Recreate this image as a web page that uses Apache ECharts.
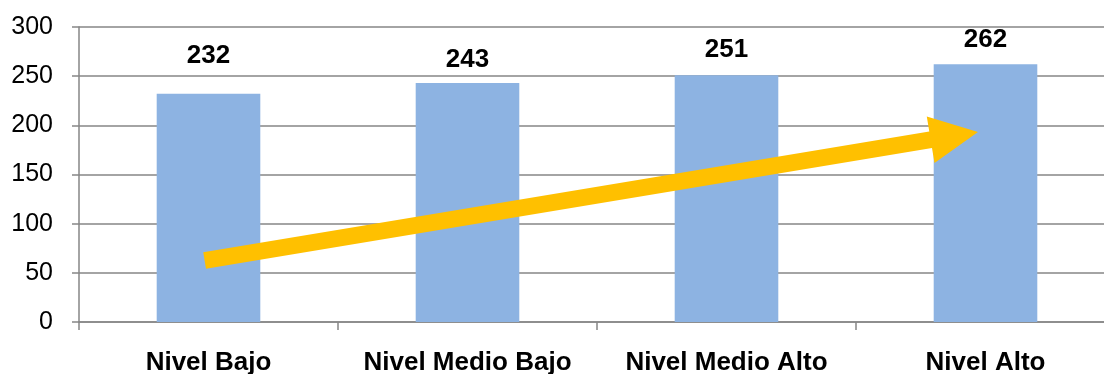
<!DOCTYPE html>
<html>
<head>
<meta charset="utf-8">
<script src="https://cdn.jsdelivr.net/npm/echarts@6/dist/echarts.min.js"></script>
<style>
  html, body { margin: 0; padding: 0; background: #fff; }
  #chart { width: 1104px; height: 374px; }
</style>
</head>
<body>
<div id="chart"></div>
<script>
// Categories and scores
const categories = ['Nivel Bajo', 'Nivel Medio Bajo', 'Nivel Medio Alto', 'Nivel Alto'];
const scores = [232, 243, 251, 262];
const yTicks = { min: 0, max: 300, step: 50 };

// Trend arrow, in data units: [category position, value]
const arrowFrom = [-0.015, 62.6];
const arrowTo = [2.971, 193.3];

// Gap between each bar top and its value label (px)
const labelGap = [25, 10, 12, 12];

const FONT = '"Liberation Sans", Arial, sans-serif';
const GRID_COLOR = '#868686';

const chart = echarts.init(document.getElementById('chart'), null, { renderer: 'canvas' });

// Draws a thick arrow (shaft + triangular head) between two data points
function renderArrow(params, api) {
  const p0 = api.coord([api.value(0), api.value(1)]);
  const p1 = api.coord([api.value(2), api.value(3)]);
  const dx = p1[0] - p0[0], dy = p1[1] - p0[1];
  const len = Math.sqrt(dx * dx + dy * dy);
  const ux = dx / len, uy = dy / len;
  const nx = -uy, ny = ux;
  const shaft = 8.3, head = 23.5, headLen = 48;
  const bx = p1[0] - ux * headLen, by = p1[1] - uy * headLen;
  const pts = [
    [p0[0] + nx * shaft, p0[1] + ny * shaft],
    [bx + nx * shaft, by + ny * shaft],
    [bx + nx * head, by + ny * head],
    [p1[0], p1[1]],
    [bx - nx * head, by - ny * head],
    [bx - nx * shaft, by - ny * shaft],
    [p0[0] - nx * shaft, p0[1] - ny * shaft]
  ];
  return { type: 'polygon', shape: { points: pts }, style: { fill: '#FFC000' } };
}

chart.setOption({
  animation: false,
  backgroundColor: '#ffffff',
  textStyle: { fontFamily: FONT },
  grid: { left: 79, top: 27, width: 1036, height: 295, containLabel: false, outerBoundsMode: 'none' },
  xAxis: [
    {
      type: 'category',
      data: categories,
      boundaryGap: true,
      axisLine: { onZero: false, lineStyle: { color: GRID_COLOR, width: 1.5 } },
      axisTick: { show: true, length: 8, interval: 0, lineStyle: { color: GRID_COLOR, width: 1.5 } },
      axisLabel: { interval: 0, margin: 28, fontSize: 26, fontWeight: 'bold', color: '#000', fontFamily: FONT },
      splitLine: { show: false }
    },
    {
      type: 'value',
      min: -0.5,
      max: 3.5,
      show: false
    }
  ],
  yAxis: {
    type: 'value',
    min: yTicks.min,
    max: yTicks.max,
    interval: yTicks.step,
    axisLine: { show: true, onZero: false, lineStyle: { color: GRID_COLOR, width: 1.5 } },
    axisTick: { show: true, length: 7, lineStyle: { color: GRID_COLOR, width: 1.5 } },
    axisLabel: { margin: 26, fontSize: 25, color: '#000', fontFamily: FONT },
    splitLine: { show: true, lineStyle: { color: GRID_COLOR, width: 1.5 } }
  },
  series: [
    {
      type: 'bar',
      xAxisIndex: 0,
      barWidth: '40%',
      itemStyle: { color: '#8DB3E2' },
      data: scores.map((v, i) => ({
        value: v,
        label: { distance: labelGap[i] }
      })),
      label: {
        show: true,
        position: 'top',
        fontSize: 26,
        fontWeight: 'bold',
        color: '#000',
        fontFamily: FONT
      },
      z: 2
    },
    {
      type: 'custom',
      xAxisIndex: 1,
      yAxisIndex: 0,
      clip: false,
      z: 3,
      renderItem: renderArrow,
      encode: { x: [0, 2], y: [1, 3] },
      data: [[arrowFrom[0], arrowFrom[1], arrowTo[0], arrowTo[1]]],
      silent: true
    }
  ]
});
</script>
</body>
</html>
